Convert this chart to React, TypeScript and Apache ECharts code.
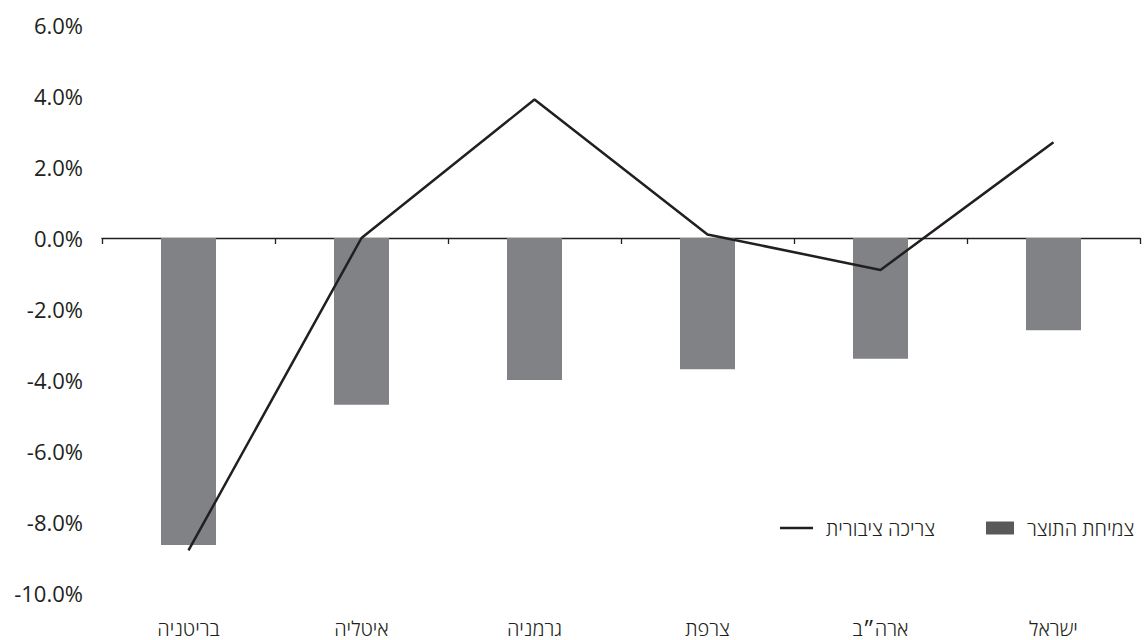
import { useEffect, useRef } from "react";
import * as echarts from "echarts";

// Countries, left to right
const countries = ["בריטניה", "איטליה", "גרמניה", "צרפת", "ארה״ב", "ישראל"];
// GDP growth (%), bars
const gdpGrowth = [-8.65, -4.7, -4.0, -3.7, -3.4, -2.6];
// Public consumption growth (%), line
const publicConsumption = [-8.8, 0.0, 3.9, 0.1, -0.9, 2.7];

const gdpName = "צמיחת התוצר";
const consumptionName = "צריכה ציבורית";

// Half-category tick positions for the zero line (ticks at centres and boundaries)
const halfSlots = ["", "", "", "", "", "", "", "", "", "", "", ""];

const FONT = "'Open Sans', 'Noto Sans', sans-serif";
const TEXT = "#231f20";
const BAR = "#808285";
const LINE = "#231f20";

export default function App() {
  const ref = useRef<HTMLDivElement>(null);

  useEffect(() => {
    if (!ref.current) return;
    const chart = echarts.init(ref.current, undefined, { renderer: "svg" });
    const hebrewText = { fontFamily: FONT, fontSize: 20, fontWeight: 300, color: TEXT };
    chart.setOption({
      animation: false,
      backgroundColor: "#ffffff",
      textStyle: { fontFamily: FONT },
      grid: { left: 102, right: 6, top: 25, bottom: 47 },
      legend: [
        {
          data: [{ name: consumptionName, icon: "rect", itemStyle: { color: LINE } }],
          left: 775,
          top: 513,
          itemWidth: 33,
          itemHeight: 2.5,
          textStyle: { ...hebrewText, padding: [0, 0, 0, 8] },
        },
        {
          data: [{ name: gdpName, icon: "rect", itemStyle: { color: "#58595b" } }],
          left: 981,
          top: 513,
          itemWidth: 28,
          itemHeight: 13,
          textStyle: { ...hebrewText, padding: [0, 0, 0, 8] },
        },
      ],
      xAxis: [
        {
          type: "category",
          data: countries,
          position: "bottom",
          axisLine: { show: false, onZero: false },
          axisTick: { show: false },
          axisLabel: { ...hebrewText, margin: 25, lineHeight: 20 },
          splitLine: { show: false },
        },
        {
          type: "category",
          data: halfSlots,
          position: "bottom",
          axisLine: { show: true, onZero: true, lineStyle: { color: TEXT, width: 1.3 } },
          axisTick: { show: true, interval: 0, length: 6, lineStyle: { color: TEXT, width: 1.3 } },
          axisLabel: { show: false },
          splitLine: { show: false },
        },
      ],
      yAxis: {
        type: "value",
        min: -10,
        max: 6,
        interval: 2,
        axisLine: { show: false },
        axisTick: { show: false },
        splitLine: { show: false },
        axisLabel: {
          color: TEXT,
          fontSize: 22,
          fontFamily: FONT,
          margin: 19,
          formatter: (v: number) => v.toFixed(1) + "%",
        },
      },
      series: [
        {
          name: gdpName,
          type: "bar",
          xAxisIndex: 0,
          data: gdpGrowth,
          barWidth: 55,
          itemStyle: { color: BAR },
        },
        {
          name: consumptionName,
          type: "line",
          xAxisIndex: 0,
          data: publicConsumption,
          symbol: "none",
          lineStyle: { color: LINE, width: 2.5 },
          itemStyle: { color: LINE },
        },
      ],
    });
    return () => chart.dispose();
  }, []);

  return (
    <div
      ref={ref}
      style={{ position: "fixed", left: 0, top: 0, width: 1146, height: 640 }}
    />
  );
}
